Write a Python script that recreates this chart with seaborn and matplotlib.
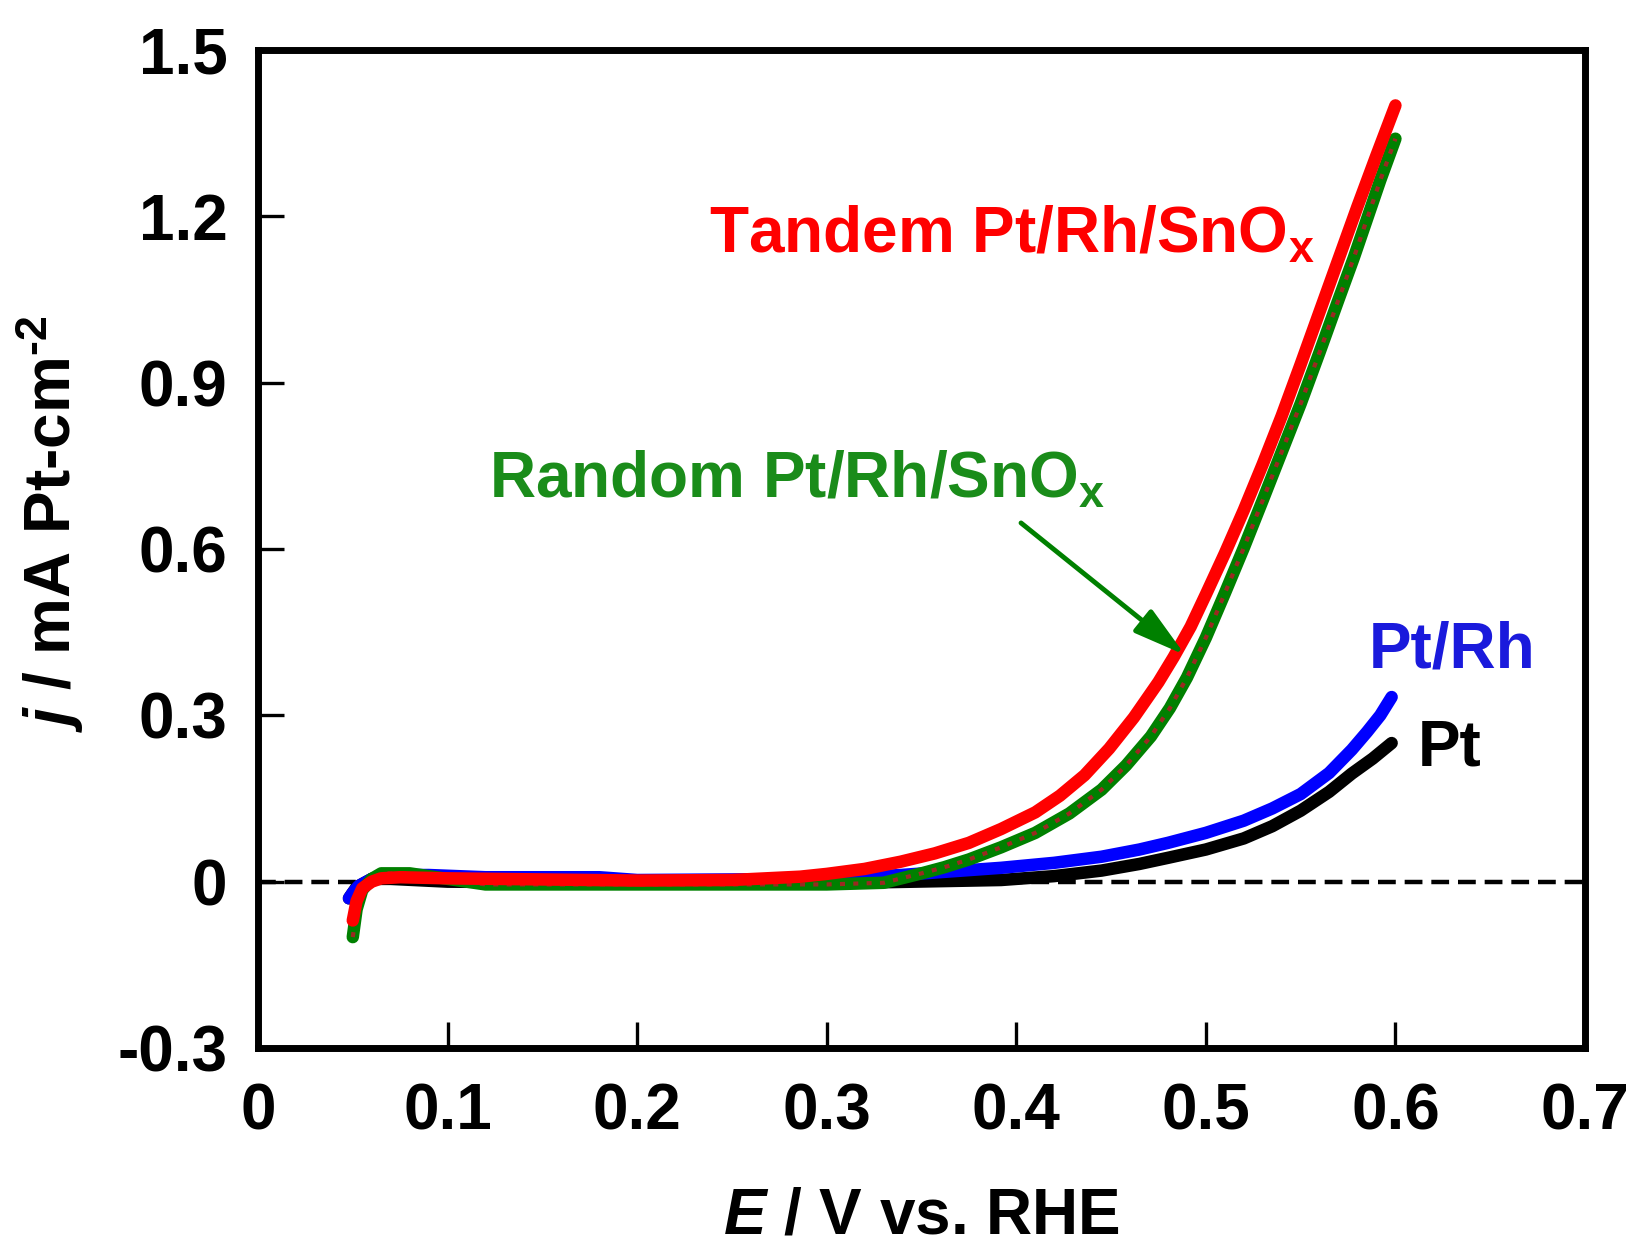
import numpy as np
import pandas as pd
import matplotlib
matplotlib.use("Agg")
import matplotlib.pyplot as plt
import seaborn as sns

# ---------------- data ----------------
tandem_E = [0.050, 0.052, 0.055, 0.060, 0.065, 0.075, 0.100, 0.150, 0.200, 0.250, 0.286, 0.300,
            0.320, 0.339, 0.357, 0.375, 0.392, 0.410, 0.423, 0.436, 0.449, 0.462, 0.475, 0.483,
            0.492, 0.500, 0.510, 0.520, 0.530, 0.540, 0.550, 0.560, 0.570, 0.580, 0.590, 0.600]
tandem_j = [-0.070, -0.035, -0.012, 0.000, 0.006, 0.008, 0.006, 0.004, 0.002, 0.003, 0.009, 0.014,
            0.023, 0.036, 0.051, 0.070, 0.095, 0.125, 0.155, 0.192, 0.240, 0.296, 0.360, 0.405,
            0.460, 0.518, 0.592, 0.670, 0.753, 0.840, 0.933, 1.028, 1.123, 1.218, 1.310, 1.400]

random_E = [0.050, 0.052, 0.055, 0.060, 0.065, 0.080, 0.090, 0.120, 0.200, 0.300, 0.330, 0.350,
            0.362, 0.375, 0.392, 0.410, 0.428, 0.445, 0.458, 0.471, 0.481, 0.490, 0.500, 0.510,
            0.520, 0.530, 0.540, 0.550, 0.560, 0.570, 0.578, 0.585, 0.592, 0.600]
random_j = [-0.100, -0.050, -0.015, 0.005, 0.015, 0.015, 0.010, -0.005, -0.005, -0.005, -0.002, 0.015,
            0.026, 0.040, 0.062, 0.088, 0.123, 0.166, 0.210, 0.262, 0.313, 0.368, 0.440, 0.520,
            0.602, 0.688, 0.775, 0.862, 0.955, 1.050, 1.125, 1.195, 1.265, 1.340]

ptrh_E = [0.048, 0.050, 0.053, 0.060, 0.070, 0.090, 0.120, 0.180, 0.200, 0.300, 0.339, 0.392,
          0.420, 0.445, 0.465, 0.480, 0.500, 0.520, 0.535, 0.550, 0.565, 0.577, 0.585, 0.592, 0.598]
ptrh_j = [-0.030, -0.020, -0.008, 0.005, 0.012, 0.012, 0.008, 0.008, 0.003, 0.005, 0.012, 0.025,
          0.034, 0.045, 0.058, 0.070, 0.088, 0.110, 0.132, 0.158, 0.196, 0.238, 0.270, 0.300, 0.333]

pt_E = [0.048, 0.052, 0.060, 0.070, 0.100, 0.200, 0.300, 0.392, 0.420, 0.445, 0.465, 0.480,
        0.500, 0.520, 0.535, 0.550, 0.565, 0.577, 0.588, 0.598]
pt_j = [-0.030, -0.010, 0.005, 0.005, 0.000, -0.002, -0.003, 0.003, 0.010, 0.020, 0.032, 0.043,
        0.058, 0.078, 0.100, 0.128, 0.162, 0.195, 0.222, 0.250]

x_ticks = [0, 0.1, 0.2, 0.3, 0.4, 0.5, 0.6, 0.7]
x_tick_labels = ["0", "0.1", "0.2", "0.3", "0.4", "0.5", "0.6", "0.7"]
y_ticks = [-0.3, 0, 0.3, 0.6, 0.9, 1.2, 1.5]
y_tick_labels = ["-0.3", "0", "0.3", "0.6", "0.9", "1.2", "1.5"]

# ---------------- style ----------------
sns.set_theme(style="white")
plt.rcParams["font.family"] = ["Liberation Sans", "DejaVu Sans"]
plt.rcParams["font.weight"] = "bold"
plt.rcParams["text.color"] = "black"
plt.rcParams["axes.labelcolor"] = "black"
plt.rcParams["mathtext.fontset"] = "custom"
plt.rcParams["mathtext.rm"] = "Liberation Sans:bold"
plt.rcParams["mathtext.bf"] = "Liberation Sans:bold"
plt.rcParams["mathtext.it"] = "Liberation Sans:italic:bold"
plt.rcParams["axes.unicode_minus"] = False

fig = plt.figure(figsize=(16.36, 12.57), dpi=100)
ax = fig.add_axes([258 / 1636, 1 - 1048 / 1257, (1585 - 258) / 1636, (1048 - 50) / 1257])

ax.axhline(0, color="black", lw=3.2, ls=(0, (4, 2)), zorder=1)

df_pt = pd.DataFrame({"E": pt_E, "j": pt_j})
df_ptrh = pd.DataFrame({"E": ptrh_E, "j": ptrh_j})
df_rand = pd.DataFrame({"E": random_E, "j": random_j})
df_tand = pd.DataFrame({"E": tandem_E, "j": tandem_j})

sns.lineplot(data=df_pt, x="E", y="j", ax=ax, color="black", lw=9, sort=False,
             estimator=None, zorder=2, solid_capstyle="round")
sns.lineplot(data=df_ptrh, x="E", y="j", ax=ax, color="#0000ff", lw=9, sort=False,
             estimator=None, zorder=3, solid_capstyle="round")
sns.lineplot(data=df_rand, x="E", y="j", ax=ax, color="#008000", lw=9, sort=False,
             estimator=None, zorder=4, solid_capstyle="round")
sns.lineplot(data=df_rand, x="E", y="j", ax=ax, color="#9a2a22", lw=3.0, sort=False,
             estimator=None, zorder=5, ls=(0, (1.2, 2.0)))
sns.lineplot(data=df_tand, x="E", y="j", ax=ax, color="#ff0000", lw=9, sort=False,
             estimator=None, zorder=6, solid_capstyle="round")

ax.set_xlim(0, 0.7)
ax.set_ylim(-0.3, 1.5)
ax.set_xticks(x_ticks)
ax.set_xticklabels(x_tick_labels)
ax.set_yticks(y_ticks)
ax.set_yticklabels(y_tick_labels)
ax.tick_params(axis="both", direction="in", length=19, width=2.4, labelsize=46,
               colors="black", pad=22, left=True, bottom=True, top=False, right=False)
ax.tick_params(axis="x", pad=25)
for lab in ax.get_xticklabels() + ax.get_yticklabels():
    lab.set_fontweight("bold")
for sp in ax.spines.values():
    sp.set_linewidth(5)
    sp.set_color("black")
    sp.set_visible(True)

ax.set_xlabel(r"$\mathit{E}$ / V vs. RHE", fontsize=46, fontweight="bold", color="black")
ax.set_ylabel("$\\mathit{j}$ / mA Pt-cm$^{\\mathregular{\u20102}}$", fontsize=46,
              fontweight="bold", color="black")
ax.xaxis.label.set_va("center")
ax.yaxis.label.set_va("center")
ax.xaxis.set_label_coords(0.5, -0.169)
ax.yaxis.set_label_coords(-0.157, 0.525)

ax.text(0.238, 1.135, r"Tandem Pt/Rh/SnO$_{\mathregular{x}}$", color="#ff0000", fontsize=46,
        fontweight="bold", ha="left", va="baseline")
ax.text(0.122, 0.692, r"Random Pt/Rh/SnO$_{\mathregular{x}}$", color="#1a8c1a", fontsize=46,
        fontweight="bold", ha="left", va="baseline")
ax.text(0.586, 0.387, "Pt/Rh", color="#1a1adc", fontsize=46, fontweight="bold",
        ha="left", va="baseline")
ax.text(0.612, 0.21, "Pt", color="black", fontsize=46, fontweight="bold",
        ha="left", va="baseline")

ax.annotate("", xy=(0.489, 0.409), xytext=(0.4025, 0.647),
            arrowprops=dict(arrowstyle="-|>,head_length=0.8,head_width=0.22",
                            color="#008000", lw=3.5, mutation_scale=40, shrinkA=0, shrinkB=0),
            zorder=7)

fig.savefig("out.png", dpi=100, facecolor="white")
